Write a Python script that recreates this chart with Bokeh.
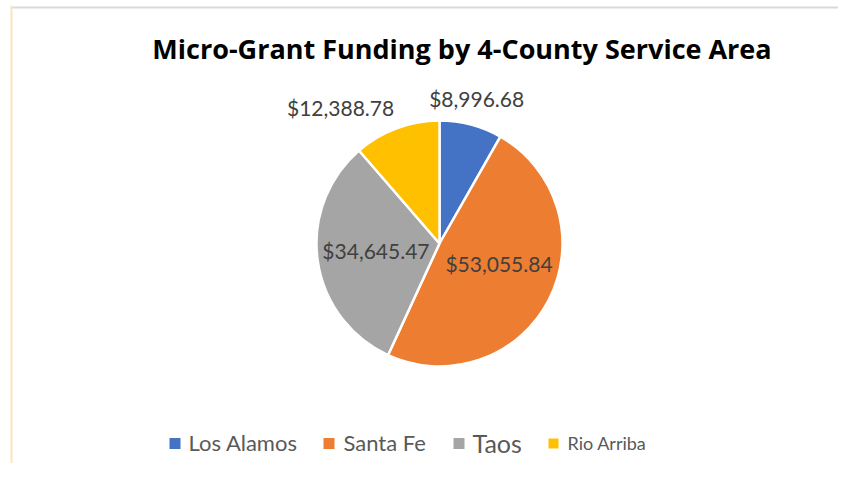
import math
from bokeh.plotting import figure
from bokeh.models import Range1d, ColumnDataSource
from bokeh.embed import file_html
from bokeh.resources import INLINE
from bokeh.core.properties import value

# ---- data ----
title_text = "Micro-Grant Funding by 4-County Service Area"
counties = ["Los Alamos", "Santa Fe", "Taos", "Rio Arriba"]
funding = [8996.68, 53055.84, 34645.47, 12388.78]
colors = ["#4472C4", "#ED7D31", "#A5A5A5", "#FFC000"]

# ---- layout / style (reference pixel coordinates) ----
W, H = 838, 463
cx, cy, R = 439, 243, 123
label_r = [1.22, 0.51, 0.52, 1.37]
label_shift_deg = [-0.5, -8.8, 1.7, -15.5]
legend_sq_x = [174.5, 328.5, 458.5, 553]
legend_txt_x = [188, 343, 472, 567]
legend_mid_y = 442
legend_font = ["22px", "22px", "25px", "18px"]
legend_sq = [11, 11, 11, 10]

def Y(ref_y):
    return 479 - ref_y

p = figure(width=W, height=H, output_backend="svg", toolbar_location=None,
           x_range=Range1d(0, W), y_range=Range1d(479 - H, 479),
           min_border=0, border_fill_color="white", background_fill_color="white")
p.axis.visible = False
p.grid.visible = False
p.outline_line_color = None

# frame lines
p.line([12, W], [Y(7), Y(7)], line_color="#D9D9D9", line_width=2)
p.line([11, 11], [Y(5), Y(479)], line_color="#FCE4B8", line_width=2)

# title
p.text([461.5], [Y(48)], text=[title_text], text_font=value("Open Sans"),
       text_font_style="bold", text_font_size="27px", text_color="#000000",
       text_align="center", text_baseline="middle")

# pie
total = sum(funding)
starts, ends, lx, ly, labels = [], [], [], [], []
cum = 0.0
for i, v in enumerate(funding):
    a0 = cum / total * 360.0
    cum += v
    a1 = cum / total * 360.0
    starts.append(math.radians(90 - a0))
    ends.append(math.radians(90 - a1))
    mid = (a0 + a1) / 2 + label_shift_deg[i]
    r = label_r[i] * R
    lx.append(cx + r * math.sin(math.radians(mid)))
    ly.append(Y(cy) + r * math.cos(math.radians(mid)))
    labels.append("${:,.2f}".format(v))

src = ColumnDataSource(dict(start=starts, end=ends, color=colors,
                            lx=lx, ly=ly, label=labels))
p.wedge(x=cx, y=Y(cy), radius=R, start_angle="start", end_angle="end",
        direction="clock", fill_color="color", line_color="white",
        line_width=2.5, source=src)
p.text(x="lx", y="ly", text="label", source=src, text_font=value("Lato"),
       text_font_size="21px", text_color="#404040", text_align="center",
       text_baseline="middle")

# legend
lsrc = ColumnDataSource(dict(sx=legend_sq_x, sy=[Y(443)] * 4, size=legend_sq,
                             color=colors, tx=legend_txt_x,
                             ty=[Y(legend_mid_y)] * 4, name=counties,
                             fs=legend_font))
p.scatter(x="sx", y="sy", size="size", marker="square", fill_color="color",
          line_color=None, source=lsrc)
p.text(x="tx", y="ty", text="name", source=lsrc, text_font=value("Lato"),
       text_font_size="fs", text_color="#595959", text_align="left",
       text_baseline="middle")

open("out.html", "w").write(file_html(p, INLINE))
